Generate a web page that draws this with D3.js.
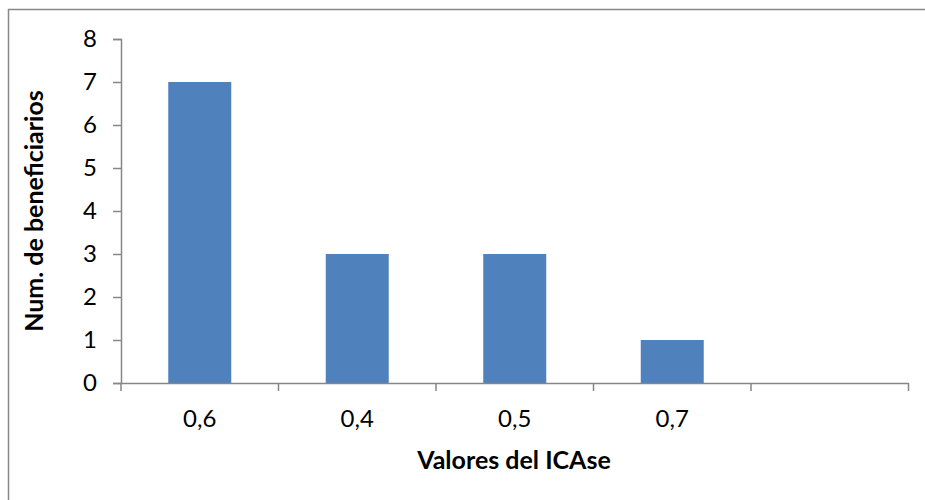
<!DOCTYPE html>
<html><head><meta charset="utf-8">
<script src="https://cdn.jsdelivr.net/npm/d3@7"></script>
<style>body{margin:0;background:#fff}svg{display:block}</style>
</head><body>
<svg id="c" width="925" height="500"></svg>
<script>
const categories = ["0,6", "0,4", "0,5", "0,7", ""];
const values = [7, 3, 3, 1, null];
const yTicks = [0, 1, 2, 3, 4, 5, 6, 7, 8];

(function () {
const svg = d3.select("#c");
const font = "Lato, 'Open Sans', sans-serif";
const axisColor = "#868686";

// outer frame
svg.append("rect").attr("x", 8.5).attr("y", 9.5).attr("width", 940).attr("height", 520)
  .attr("fill", "none").attr("stroke", "#888").attr("stroke-width", 1.5);

const mLeft = 121, mRight = 908.5, mTop = 39, mBottom = 383;
const x = d3.scaleBand().domain(categories.map((c, i) => i)).range([mLeft, mRight]).padding(0);
const y = d3.scaleLinear().domain([0, 8]).range([mBottom, mTop]);

// bars
const bw = x.bandwidth() * 0.4;
svg.append("g").selectAll("rect").data(values.map((v, i) => ({v, i})).filter(d => d.v != null))
  .enter().append("rect")
  .attr("x", d => x(d.i) + x.bandwidth() / 2 - bw / 2)
  .attr("width", bw)
  .attr("y", d => y(d.v))
  .attr("height", d => y(0) - y(d.v))
  .attr("fill", "#4F81BD");

// y axis
const yAxis = svg.append("g").attr("transform", `translate(${mLeft},0)`)
  .call(d3.axisLeft(y).tickValues(yTicks).tickSize(8).tickPadding(16).tickFormat(d3.format("d")));
yAxis.select(".domain").attr("stroke", axisColor).attr("stroke-width", 1.5);
yAxis.selectAll(".tick line").attr("stroke", axisColor).attr("stroke-width", 1.5);
yAxis.selectAll(".tick text").attr("font-family", font).attr("font-size", 24).attr("fill", "#000");

// x axis
const xAxis = svg.append("g").attr("transform", `translate(0,${mBottom})`)
  .call(d3.axisBottom(x).tickSize(0).tickPadding(27).tickFormat(i => categories[i]));
xAxis.select(".domain").attr("stroke", axisColor).attr("stroke-width", 1.5);
xAxis.selectAll(".tick text").attr("font-family", font).attr("font-size", 24).attr("fill", "#000");
// boundary ticks between categories
const bounds = categories.map((c, i) => x(i)).concat([x(categories.length - 1) + x.bandwidth()]);
svg.append("g").selectAll("line").data(bounds).enter().append("line")
  .attr("x1", d => d).attr("x2", d => d).attr("y1", mBottom).attr("y2", mBottom + 8)
  .attr("stroke", axisColor).attr("stroke-width", 1.5);

// titles
svg.append("text").attr("transform", `translate(43,${(mTop + mBottom) / 2}) rotate(-90)`)
  .attr("text-anchor", "middle").attr("font-family", font).attr("font-weight", "bold")
  .attr("font-size", 25).text("Num. de beneficiarios");
svg.append("text").attr("x", 514).attr("y", 469)
  .attr("text-anchor", "middle").attr("font-family", font).attr("font-weight", "bold")
  .attr("font-size", 25).text("Valores del ICAse");
})();
</script>
</body></html>
